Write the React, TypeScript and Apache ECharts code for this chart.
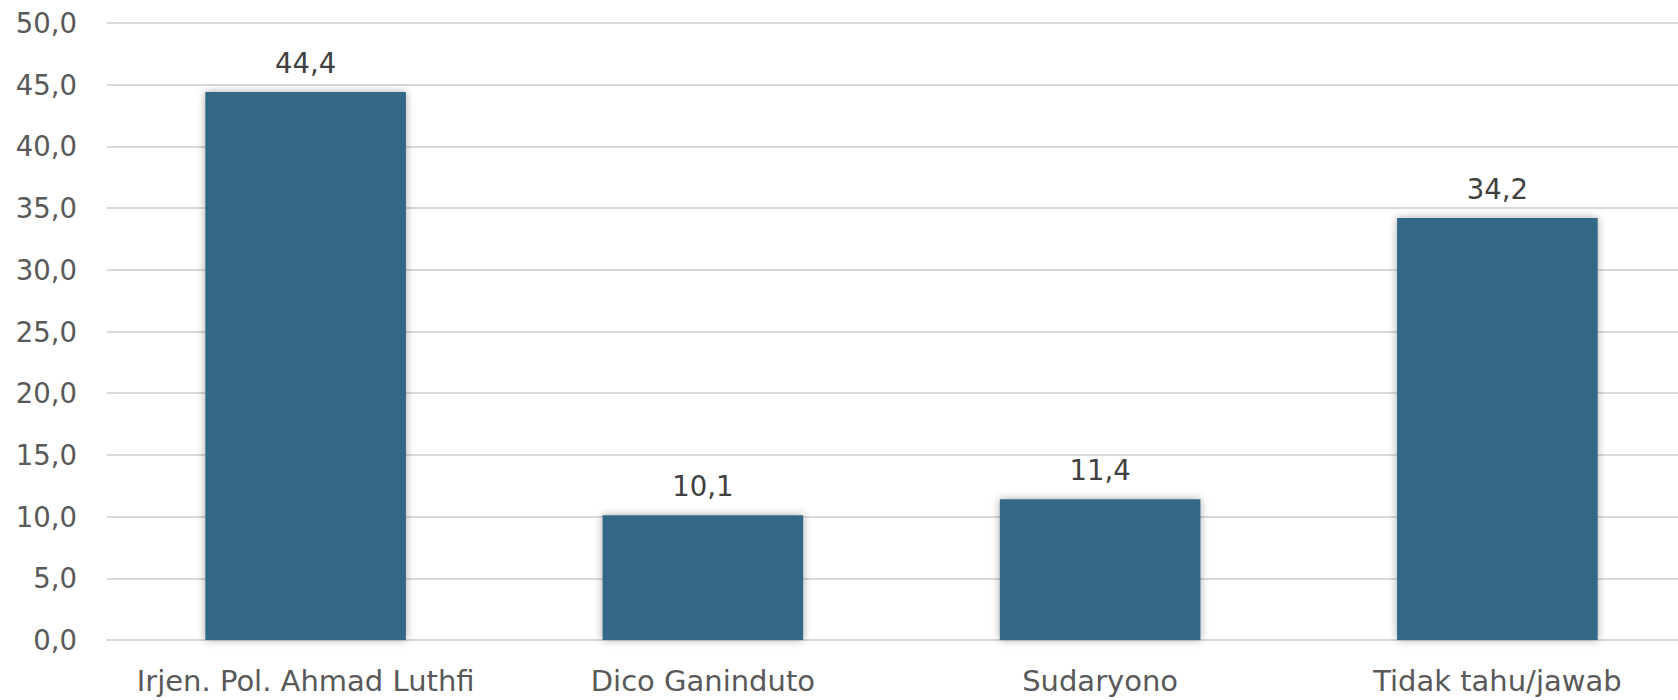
import React, { useEffect, useRef } from "react";
import * as echarts from "echarts";

const categories = ["Irjen. Pol. Ahmad Luthfi", "Dico Ganinduto", "Sudaryono", "Tidak tahu/jawab"];
const values = [44.4, 10.1, 11.4, 34.2];
const yMin = 0;
const yMax = 50;
const yStep = 5;

const fmt = (v: number) => v.toFixed(1).replace(".", ",");
const FONT = "'DejaVu Sans', sans-serif";

export default function App() {
  const ref = useRef<HTMLDivElement>(null);
  useEffect(() => {
    if (!ref.current) return;
    const chart = echarts.init(ref.current, undefined, { renderer: "svg" });
    chart.setOption({
      animation: false,
      grid: { left: 107, top: 23, right: -18, bottom: 60, containLabel: false, outerBoundsMode: "none" },
      xAxis: {
        type: "category",
        data: categories,
        axisLine: { show: true, lineStyle: { color: "#d9d9d9", width: 2 } },
        axisTick: { show: false },
        axisLabel: { color: "#595959", fontSize: 29, fontFamily: FONT, margin: 26, interval: 0 },
      },
      yAxis: {
        type: "value",
        min: yMin,
        max: yMax,
        interval: yStep,
        axisLine: { show: false },
        axisTick: { show: false },
        splitLine: { lineStyle: { color: "#d9d9d9", width: 2 } },
        axisLabel: { color: "#595959", fontSize: 27.5, fontFamily: FONT, margin: 30, formatter: (v: number) => fmt(v) },
      },
      series: [
        {
          type: "bar",
          data: values,
          barWidth: "50.5%",
          itemStyle: {
            color: "#326886",
            shadowColor: "rgba(0,0,0,0.35)",
            shadowBlur: 9,
          },
          label: {
            show: true,
            position: "top",
            distance: 15,
            color: "#404040",
            fontSize: 27.5,
            fontFamily: FONT,
            formatter: (p: any) => fmt(p.value),
          },
        },
      ],
    });
    return () => chart.dispose();
  }, []);
  return <div ref={ref} style={{ width: 1678, height: 700, position: "absolute", left: 0, top: 0, background: "#fff" }} />;
}
